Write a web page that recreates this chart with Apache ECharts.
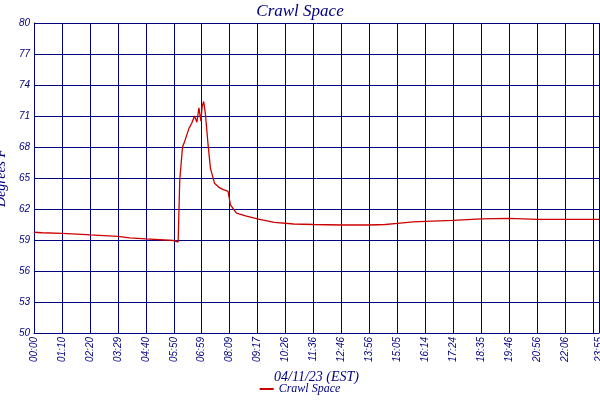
<!DOCTYPE html>
<html><head><meta charset="utf-8">
<script src="https://cdn.jsdelivr.net/npm/echarts@6/dist/echarts.min.js"></script>
<style>html,body{margin:0;padding:0;background:#fff}#c{width:600px;height:400px}</style>
</head><body><div id="c"></div>
<script>
const tickLabels = ['00:00','01:10','02:20','03:29','04:40','05:50','06:59','08:09','09:17','10:26','11:36','12:46','13:56','15:05','16:14','17:24','18:35','19:46','20:56','22:06','23:15','23:55'];
const sampleIdx = [0,20,70,120,140,210,240,280,350,355,361,365,372,377,388,395,402,408,413,418,421,425,429,436,442,452,463,473,486,492,507,532,565,602,650,700,770,840,880,910,950,980,1050,1120,1190,1260,1330,1415];
const temps =     [59.75,59.7,59.65,59.55,59.5,59.35,59.2,59.1,58.95,58.85,58.8,64.8,68.0,68.5,69.8,70.3,71.0,70.4,71.8,70.5,71.9,72.4,71.3,68.2,65.9,64.5,64.1,63.9,63.7,62.4,61.6,61.3,61.0,60.7,60.55,60.5,60.45,60.45,60.5,60.6,60.75,60.8,60.9,61.05,61.1,61.0,61.0,61.0];
const series1 = 'Crawl Space';
const blue = '#000080';
const chart = echarts.init(document.getElementById('c'));
chart.setOption({
  animation:false,
  title:{text:'Crawl Space',left:'center',top:-2,textStyle:{fontFamily:'Liberation Serif',fontStyle:'italic',fontWeight:'normal',fontSize:17,color:blue}},
  grid:{left:34,right:1,top:23,bottom:67,containLabel:false,outerBoundsMode:'none'},
  legend:{bottom:0,left:'center',itemWidth:14,itemHeight:2,icon:'rect',textStyle:{fontFamily:'Liberation Serif',fontStyle:'italic',fontSize:12,color:blue},data:[series1]},
  xAxis:{type:'value',min:0,max:1415,interval:70,
    name:'04/11/23 (EST)',nameLocation:'middle',nameGap:36,
    nameTextStyle:{fontFamily:'Liberation Serif',fontStyle:'italic',fontSize:14,color:blue},
    axisLine:{lineStyle:{color:blue}},axisTick:{show:false},
    splitLine:{show:true,lineStyle:{color:blue,width:1}},
    axisLabel:{rotate:90,fontStyle:'italic',fontSize:10,color:blue,showMaxLabel:true,margin:4,
      formatter:v=>v>=1415?tickLabels[21]:tickLabels[Math.round(v/70)]}},
  yAxis:{type:'value',min:50,max:80,interval:3,
    name:'Degrees F',nameLocation:'middle',nameGap:22,
    nameTextStyle:{fontFamily:'Liberation Serif',fontStyle:'italic',fontSize:14,color:blue},
    axisLine:{show:true,lineStyle:{color:blue}},axisTick:{show:false},
    splitLine:{lineStyle:{color:blue,width:1}},
    axisLabel:{fontStyle:'italic',fontSize:10,color:blue,margin:4}},
  series:[{name:series1,type:'line',symbol:'none',
    lineStyle:{color:'#cc0000',width:1.3},itemStyle:{color:'#cc0000'},
    data:sampleIdx.map((x,i)=>[x,temps[i]])}]
});
</script></body></html>
